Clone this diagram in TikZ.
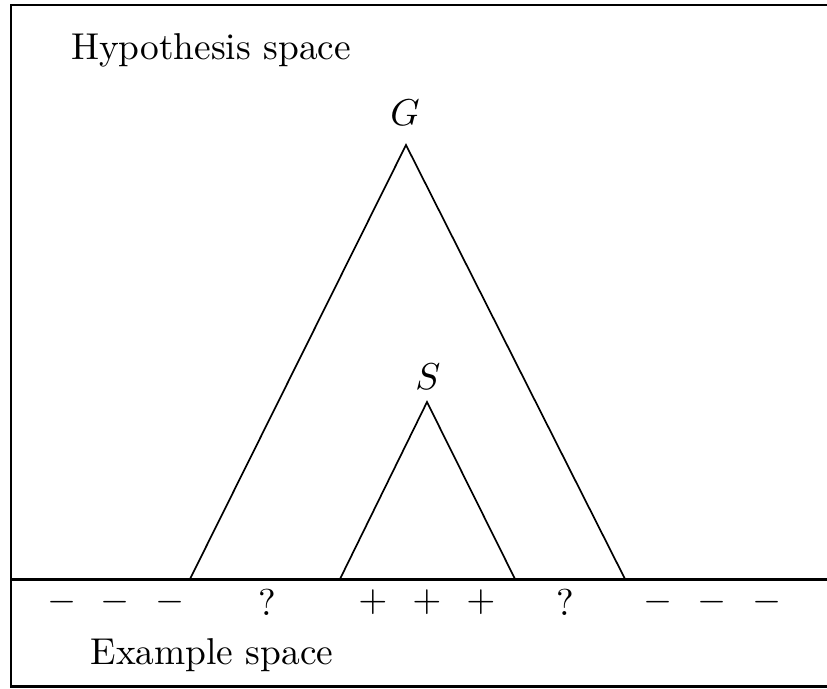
\documentclass[tikz,border=0pt]{standalone}
\usepackage{amsmath,amssymb}
\usepackage{tikz}
\usetikzlibrary{positioning, calc}

\begin{document}
\begin{tikzpicture}[x=0.0094cm, y=-0.0094cm,
    frame/.style={line width=0.8pt},
    cone/.style={line width=0.45pt, line join=miter},
    sign/.style={inner sep=0pt}]
  \useasboundingbox (0,0) rectangle (827,688);
  % Frame and boundary between the two spaces
  \coordinate (tl) at (11,5);
  \coordinate (tr) at (827,5);
  \coordinate (bl) at (11,686);
  \coordinate (br) at (827,686);
  \coordinate (ml) at (11,579);
  \coordinate (mr) at (827,579);
  \draw[frame] (tr) -- (tl) -- (bl) -- (br);
  \draw[frame] (ml) -- (mr);
  \node (hyp) at (211,50) {Hypothesis space};
  \node (ex) at (212,655) {Example space};
  % General boundary
  \coordinate (gtop) at (406,145);
  \coordinate (gleft) at (190,579);
  \coordinate (gright) at (625,579);
  \draw[cone] (gleft) -- (gtop) -- (gright);
  \node (glab) at (405,113) {$G$};
  % Specific boundary
  \coordinate (stop) at (427,402);
  \coordinate (sleft) at (340,579);
  \coordinate (sright) at (515,579);
  \draw[cone] (sleft) -- (stop) -- (sright);
  \node (slab) at (428,377) {$S$};
  % Labels of the examples
  \foreach \x [count=\i] in {62,115,170} \node[sign] (neg\i) at (\x,602) {$-$};
  \node[sign] (q1) at (267,602) {?};
  \foreach \x [count=\i] in {373,427,481} \node[sign] (pos\i) at (\x,602) {$+$};
  \node[sign] (q2) at (565,602) {?};
  \foreach \x [count=\i] in {658,712,767} \node[sign] (neg\the\numexpr\i+3\relax) at (\x,602) {$-$};
\end{tikzpicture}
\end{document}
